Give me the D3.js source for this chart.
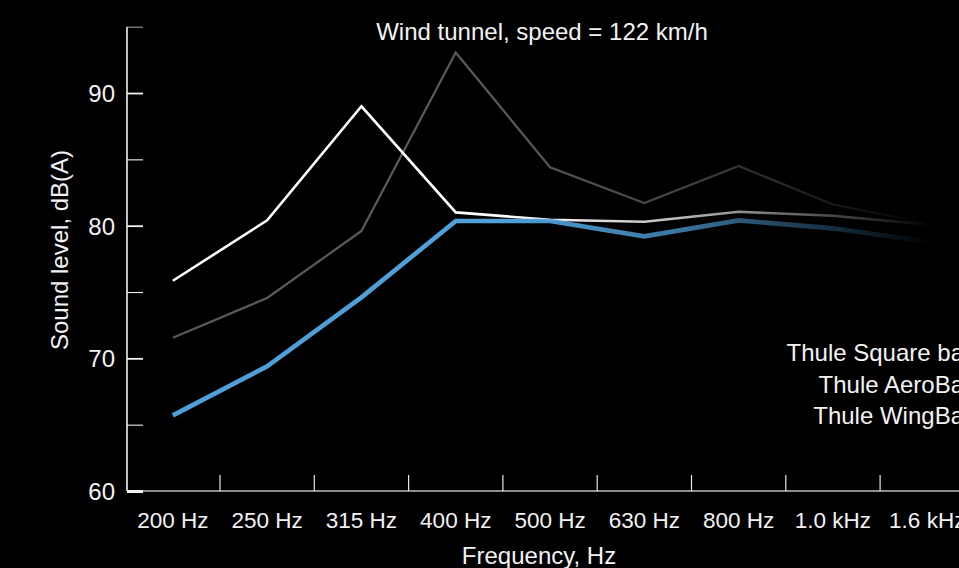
<!DOCTYPE html>
<html>
<head>
<meta charset="utf-8">
<script src="https://cdn.jsdelivr.net/npm/d3@7"></script>
<style>
  html, body { margin: 0; padding: 0; background: #000; overflow: hidden; }
  svg { display: block; font-family: "Liberation Sans", Arial, sans-serif; }
  text { fill: #f2f2f2; }
</style>
</head>
<body>
<div id="chart"></div>
<script>
////////////////////////////////////////////////////////////////////
////////////////////////////  Data  ////////////////////////////////
const frequencies = ["200 Hz", "250 Hz", "315 Hz", "400 Hz", "500 Hz", "630 Hz", "800 Hz", "1.0 kHz", "1.6 kHz"];
const squareBar = [75.85, 80.4, 89.0, 81.0, 80.45, 80.3, 81.05, 80.75, 80.1];
const aeroBar = [71.55, 74.55, 79.6, 93.05, 84.4, 81.7, 84.5, 81.6, 80.2];
const wingBar = [65.7, 69.4, 74.6, 80.35, 80.35, 79.2, 80.4, 79.8, 78.8];
const seriesNames = ["Thule Square bar", "Thule AeroBar", "Thule WingBar"];
const yTicks = [60, 65, 70, 75, 80, 85, 90, 95];

const series = [
  { name: seriesNames[1], values: aeroBar, color: "#5a5a5a", width: 2.2 },
  { name: seriesNames[0], values: squareBar, color: "#ffffff", width: 2.6 },
  { name: seriesNames[2], values: wingBar, color: "#4f9fd8", width: 4.6 },
];

////////////////////////////////////////////////////////////////////
////////////////////////////  Init  ///////////////////////////////
const width = 959;
const height = 568;
const step = 94.3;
const x0 = 125.7;

const svg = d3.select("#chart").append("svg")
  .attr("width", width)
  .attr("height", height);

// scale
const xScale = d3.scaleBand()
  .domain(frequencies)
  .range([x0, x0 + step * frequencies.length]);
const yScale = d3.scaleLinear().domain([60, 95]).range([491, 26.7]);

const fontSize = 24;
const tickFontSize = 22.5;

// gradients to fade lines out to the right
const defs = svg.append("defs");
series.forEach((s, i) => {
  const grad = defs.append("linearGradient")
    .attr("id", "fade" + i)
    .attr("gradientUnits", "userSpaceOnUse")
    .attr("x1", xScale("500 Hz")).attr("x2", xScale("1.6 kHz") + xScale.bandwidth() / 2 + 4)
    .attr("y1", 0).attr("y2", 0);
  grad.append("stop").attr("offset", 0).attr("stop-color", s.color).attr("stop-opacity", 1);
  grad.append("stop").attr("offset", 0.4).attr("stop-color", s.color).attr("stop-opacity", 0.75);
  grad.append("stop").attr("offset", 1).attr("stop-color", s.color).attr("stop-opacity", 0);
});

// x axis line
svg.append("line")
  .attr("x1", 127).attr("x2", width)
  .attr("y1", yScale(60)).attr("y2", yScale(60))
  .attr("stroke", "#bdbdbd").attr("stroke-width", 1.6);

// x boundary ticks
svg.append("g").selectAll("line")
  .data(frequencies.slice(1))
  .join("line")
  .attr("x1", (d) => xScale(d)).attr("x2", (d) => xScale(d))
  .attr("y1", yScale(60)).attr("y2", yScale(60) - 16)
  .attr("stroke", "#e8e8e8").attr("stroke-width", 1.2);

// x labels
const xAxis = d3.axisBottom(xScale).tickSize(0).tickPadding(0);
svg.append("g")
  .attr("transform", `translate(0,${yScale(60)})`)
  .call(xAxis)
  .call((g) => g.select(".domain").remove())
  .selectAll("text")
  .attr("y", 37)
  .attr("dy", null)
  .style("font-size", tickFontSize + "px")
  .style("font-family", "Liberation Sans, Arial, sans-serif")
  .attr("fill", "#f2f2f2");

// y axis
const yAxis = d3.axisLeft(yScale)
  .tickValues(yTicks)
  .tickSize(-16)
  .tickPadding(12)
  .tickFormat((d) => (d % 10 === 0 ? d : ""));

const yG = svg.append("g")
  .attr("transform", "translate(127,0)")
  .call(yAxis);
yG.select(".domain").attr("stroke", "#f2f2f2").attr("stroke-width", 1.6).attr("d", `M0,${yScale(95)}V${yScale(60)}`);
yG.selectAll(".tick line")
  .attr("stroke", (d) => (d === 95 ? "#9a9a9a" : "#f2f2f2"))
  .attr("stroke-width", (d) => (d === 60 ? 3 : d % 10 === 0 ? 1.8 : 1.1));
yG.selectAll(".tick text")
  .attr("dy", "0.36em")
  .style("font-size", fontSize + "px")
  .style("font-family", "Liberation Sans, Arial, sans-serif")
  .attr("fill", "#f2f2f2");

// lines
const line = d3.line()
  .x((d, i) => xScale(frequencies[i]) + xScale.bandwidth() / 2)
  .y((d) => yScale(d));

svg.append("g").selectAll("path")
  .data(series)
  .join("path")
  .attr("fill", "none")
  .attr("stroke", (d, i) => `url(#fade${i})`)
  .attr("stroke-width", (d) => d.width)
  .attr("stroke-linejoin", "miter")
  .attr("d", (d) => line(d.values));

// titles
svg.append("text")
  .attr("x", 542).attr("y", 40)
  .attr("text-anchor", "middle")
  .style("font-size", fontSize + "px")
  .text("Wind tunnel, speed = 122 km/h");

svg.append("text")
  .attr("x", 539).attr("y", 564)
  .attr("text-anchor", "middle")
  .style("font-size", fontSize + "px")
  .text("Frequency, Hz");

svg.append("text")
  .attr("transform", "translate(68,250) rotate(-90)")
  .attr("text-anchor", "middle")
  .style("font-size", fontSize + "px")
  .text("Sound level, dB(A)");

// legend
svg.append("g").selectAll("text")
  .data(seriesNames)
  .join("text")
  .attr("x", 972)
  .attr("y", (d, i) => 361 + i * 31.5)
  .attr("text-anchor", "end")
  .style("font-size", fontSize + "px")
  .text((d) => d);
</script>
</body>
</html>
